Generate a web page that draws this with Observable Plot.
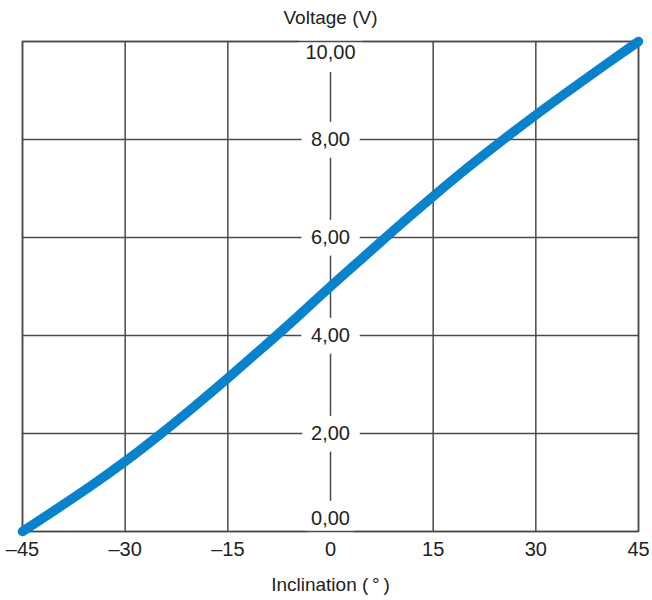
<!DOCTYPE html>
<html>
<head>
<meta charset="utf-8">
<script src="https://cdn.jsdelivr.net/npm/d3@7"></script>
<script src="https://cdn.jsdelivr.net/npm/@observablehq/plot@0.6"></script>
<style>
  html, body { margin: 0; padding: 0; background: #fff; }
</style>
</head>
<body>
<div id="chart"></div>
<script>
// Inclination (degrees) and output voltage (V)
const inclination = [-45, -40, -35, -30, -25, -20, -15, -10, -5, 0, 5, 10, 15, 20, 25, 30, 35, 40, 45];
const voltage     = [0, 0.46, 0.93, 1.43, 1.97, 2.54, 3.13, 3.74, 4.36, 5.0, 5.62, 6.24, 6.84, 7.42, 7.97, 8.50, 9.01, 9.51, 10.0];

const xTicks = [-45, -30, -15, 0, 15, 30, 45];
const yTicks = [0, 2, 4, 6, 8, 10];

const xTitle = "Inclination (\u2009°\u2009)";
const yTitle = "Voltage (V)";

const data = inclination.map((x, i) => ({x, v: voltage[i]}));
const fmtX = d => d < 0 ? "\u2013" + (-d) : String(d);
const fmtY = d => d.toFixed(2).replace(".", ",");

const font = "Liberation Sans, Arial, sans-serif";
const gridColor = "#4a4a4a";
const textColor = "#222";
const fsTick = 20;
const fsTitle = 19;

const midTicks = yTicks.filter(d => d !== 0 && d !== 10);
const topTick = yTicks.filter(d => d === 10);
const botTick = yTicks.filter(d => d === 0);

function yLabelMarks(opts) {
  return [
    Plot.text(midTicks, {x: () => 0, y: d => d, text: fmtY, ...opts}),
    Plot.text(topTick, {x: () => 0, y: d => d, text: fmtY, dy: 11, ...opts}),
    Plot.text(botTick, {x: () => 0, y: d => d, text: fmtY, dy: -13, ...opts})
  ];
}

const chart = Plot.plot({
  width: 652,
  height: 600,
  marginTop: 41,
  marginBottom: 69,
  marginLeft: 22,
  marginRight: 14,
  style: {fontFamily: font, fontSize: fsTick + "px", background: "#fff"},
  x: {domain: [-45, 45], axis: null},
  y: {domain: [0, 10], axis: null},
  marks: [
    Plot.ruleX(xTicks, {x: d => d, stroke: gridColor, strokeWidth: 1.5}),
    Plot.ruleY(yTicks, {y: d => d, stroke: gridColor, strokeWidth: 1.5}),
    ...yLabelMarks({fill: "white", stroke: "white", strokeWidth: 21, strokeLinejoin: "round", fontSize: fsTick}),
    Plot.frame({stroke: gridColor, strokeWidth: 1.5}),
    ...yLabelMarks({fill: textColor, fontSize: fsTick}),
    Plot.text(xTicks, {x: d => d, text: fmtX, frameAnchor: "bottom", dy: 24, fill: textColor, fontSize: fsTick}),
    Plot.text([yTitle], {frameAnchor: "top", dy: -31, fill: textColor, fontSize: fsTitle}),
    Plot.text([xTitle], {frameAnchor: "bottom", dy: 59, fill: textColor, fontSize: fsTitle}),
    Plot.line(data, {x: "x", y: "v", stroke: "#0883cb", strokeWidth: 9.5, curve: "natural", strokeLinecap: "round"})
  ]
});
document.getElementById("chart").appendChild(chart);
</script>
</body>
</html>
